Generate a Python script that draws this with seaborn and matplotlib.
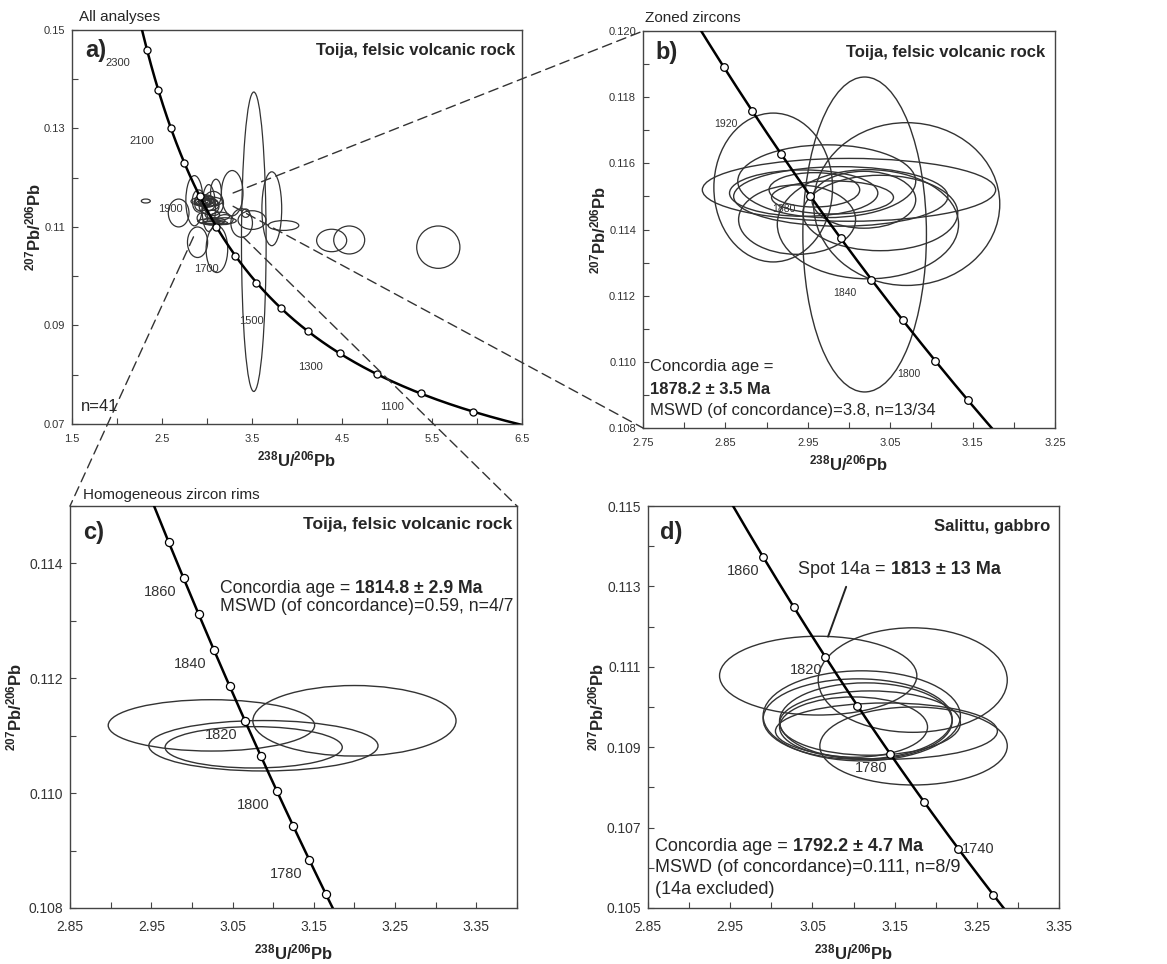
import numpy as np
import seaborn as sns
import matplotlib.pyplot as plt
from matplotlib.patches import Ellipse, ConnectionPatch

sns.set_theme(style="ticks")
plt.rcParams["font.family"] = ["Liberation Sans", "DejaVu Sans"]
plt.rcParams["mathtext.fontset"] = "custom"
plt.rcParams["mathtext.rm"] = "Liberation Sans"
plt.rcParams["mathtext.bf"] = "Liberation Sans:bold"

# decay constants (Steiger & Jäger) for the Tera-Wasserburg concordia
L238 = 1.55125e-10
L235 = 9.8485e-10
U_RATIO = 137.88

# ---- concordia age marks (Ma) ----
a_marks = [1000, 1100, 1200, 1300, 1400, 1500, 1600, 1700, 1800, 1900, 2000, 2100, 2200, 2300]
a_labels = [1100, 1300, 1500, 1700, 1900, 2100, 2300]
b_marks = [1780, 1800, 1820, 1840, 1860, 1880, 1900, 1920, 1940]
b_labels = [1800, 1840, 1880, 1920]
c_marks = [1770, 1780, 1790, 1800, 1810, 1820, 1830, 1840, 1850, 1860, 1870]
c_labels = [1780, 1800, 1820, 1840, 1860]
d_marks = [1720, 1740, 1760, 1780, 1800, 1820, 1840, 1860]
d_labels = [1780, 1820, 1860]
d_labels_right = [1740]

# ---- error ellipses: centre x, centre y, half width, half height ----
# zoned zircons (panel b)
zoned_x = [3.019, 2.908, 3.070, 3.000, 2.973, 2.990, 2.958, 2.980, 2.937, 3.023, 3.038, 3.018, 2.945]
zoned_y = [0.11385, 0.11527, 0.11477, 0.11520, 0.11546, 0.11500, 0.11520, 0.11497, 0.11430, 0.11416, 0.11450, 0.11490, 0.11510]
zoned_hw = [0.075, 0.072, 0.113, 0.178, 0.108, 0.130, 0.055, 0.074, 0.071, 0.110, 0.094, 0.063, 0.090]
zoned_hh = [0.00476, 0.00225, 0.00246, 0.00095, 0.00110, 0.00090, 0.00052, 0.00050, 0.00105, 0.00165, 0.00114, 0.00086, 0.00070]

# homogeneous rims (panel c)
rim_x = [3.024, 3.200, 3.088, 3.076]
rim_y = [0.11118, 0.11126, 0.110825, 0.110798]
rim_hw = [0.127, 0.125, 0.141, 0.109]
rim_hh = [0.000447, 0.000614, 0.000439, 0.00036]

# remaining analyses only visible in panel a
other_x = [2.32, 2.685, 2.86, 3.10, 3.28, 3.72, 3.52, 2.895, 3.11, 3.85, 3.385, 3.50, 3.43,
           4.385, 4.58, 5.57, 2.98, 3.02, 3.06, 2.95, 3.15, 3.00, 3.08, 3.20]
other_y = [0.11527, 0.11284, 0.11533, 0.1170, 0.11686, 0.1137, 0.1070, 0.1069, 0.1055, 0.1103, 0.1108, 0.1114, 0.1128,
           0.10726, 0.10736, 0.1059, 0.1152, 0.1148, 0.1125, 0.1118, 0.1122, 0.1150, 0.1112, 0.1115]
other_hw = [0.05, 0.115, 0.095, 0.06, 0.12, 0.11, 0.137, 0.112, 0.12, 0.17, 0.12, 0.155, 0.043,
            0.167, 0.172, 0.24, 0.05, 0.07, 0.08, 0.06, 0.10, 0.04, 0.12, 0.09]
other_hh = [0.0004, 0.00283, 0.0051, 0.0027, 0.0046, 0.0075, 0.0304, 0.0031, 0.00475, 0.001, 0.0029, 0.0019, 0.00085,
            0.00228, 0.00284, 0.0043, 0.0012, 0.0015, 0.0009, 0.0011, 0.0008, 0.0009, 0.0007, 0.0010]

# Salittu gabbro (panel d), first one is spot 14a
sal_x = [3.057, 3.172, 3.110, 3.105, 3.115, 3.120, 3.100, 3.140, 3.173]
sal_y = [0.11078, 0.11067, 0.10978, 0.10970, 0.10965, 0.10960, 0.10950, 0.10940, 0.10903]
sal_hw = [0.120, 0.115, 0.120, 0.115, 0.105, 0.110, 0.090, 0.135, 0.114]
sal_hh = [0.00098, 0.00130, 0.00112, 0.00100, 0.00095, 0.00080, 0.00075, 0.00070, 0.00097]


def concordia(ages):
    t = np.asarray(ages, dtype=float) * 1e6
    r206 = np.expm1(L238 * t)
    r207 = np.expm1(L235 * t)
    return 1.0 / r206, r207 / r206 / U_RATIO


def draw_concordia(ax, marks, lo, hi, lw=1.8, ms=28):
    cx, cy = concordia(np.linspace(lo, hi, 500))
    sns.lineplot(x=cx, y=cy, ax=ax, color="black", lw=lw, sort=False, estimator=None, zorder=4)
    mx, my = concordia(marks)
    sns.scatterplot(x=mx, y=my, ax=ax, s=ms, color="white", edgecolor="black", linewidth=0.9, zorder=6)


def label_ages(ax, ages, dx, dy, size, ha="center"):
    mx, my = concordia(ages)
    for age, x, y in zip(ages, mx, my):
        ax.annotate(str(age), (x, y), xytext=(dx, dy), textcoords="offset points",
                    ha=ha, va="center", fontsize=size, color="#333333", zorder=7)


def draw_ellipses(ax, xs, ys, hws, hhs, lw=0.9):
    for x, y, w, h in zip(xs, ys, hws, hhs):
        ax.add_patch(Ellipse((x, y), 2 * w, 2 * h, fill=False, ec="#333333", lw=lw, zorder=3))


def style_axis(ax, xlim, ylim, xt, xtl, xminor, yt, ytl, yminor, tsize, xpad=4, ypad=6, tpad=7):
    ax.set_xlim(xlim)
    ax.set_ylim(ylim)
    ax.set_xticks(xt, xtl)
    ax.set_xticks(xminor, minor=True)
    ax.set_yticks(yt, ytl)
    ax.set_yticks(yminor, minor=True)
    ax.tick_params(which="both", direction="in", length=4, width=0.8, color="#444444",
                   labelsize=tsize, labelcolor="#333333")
    ax.tick_params(axis="x", which="major", pad=tpad)
    ax.tick_params(axis="y", which="major", pad=5)
    for s in ax.spines.values():
        s.set_color("#444444")
        s.set_linewidth(1.0)
    ax.set_xlabel(r"$\mathbf{^{238}U/^{206}Pb}$", fontsize=12, labelpad=xpad)
    ax.set_ylabel(r"$\mathbf{^{207}Pb/^{206}Pb}$", fontsize=12, labelpad=ypad)


fig = plt.figure(figsize=(11.67, 9.64), dpi=100)
ax_a = fig.add_axes([0.0617, 0.5602, 0.3856, 0.4087])
ax_b = fig.add_axes([0.551, 0.556, 0.353, 0.4118])
ax_c = fig.add_axes([0.060, 0.0581, 0.383, 0.417])
ax_d = fig.add_axes([0.5553, 0.0581, 0.3522, 0.417])

# ---- a) all analyses ----
draw_ellipses(ax_a, zoned_x + rim_x + other_x, zoned_y + rim_y + other_y,
              zoned_hw + rim_hw + other_hw, zoned_hh + rim_hh + other_hh, lw=0.9)
draw_concordia(ax_a, a_marks, 900, 2600, lw=1.8, ms=26)
label_ages(ax_a, a_labels, -21, -9.5, 8)
style_axis(ax_a, (1.5, 6.5), (0.07, 0.15),
           [1.5, 2.5, 3.5, 4.5, 5.5, 6.5], ["1.5", "2.5", "3.5", "4.5", "5.5", "6.5"],
           np.arange(1.5, 6.51, 0.5),
           [0.07, 0.09, 0.11, 0.13, 0.15], ["0.07", "0.09", "0.11", "0.13", "0.15"],
           np.arange(0.07, 0.1501, 0.01), 8, xpad=4, ypad=0)
ax_a.text(0.03, 0.948, "a)", transform=ax_a.transAxes, fontsize=17, fontweight="bold", va="center")
ax_a.text(0.985, 0.948, "Toija, felsic volcanic rock", transform=ax_a.transAxes,
          fontsize=12, fontweight="bold", ha="right", va="center")
ax_a.text(0.02, 0.045, "n=41", transform=ax_a.transAxes, fontsize=12, va="center")
ax_a.text(0.015, 1.033, "All analyses", transform=ax_a.transAxes, fontsize=11, va="center")

# ---- b) zoned zircons ----
draw_ellipses(ax_b, zoned_x, zoned_y, zoned_hw, zoned_hh, lw=1.0)
draw_concordia(ax_b, b_marks, 1740, 1980, lw=1.8, ms=30)
label_ages(ax_b, b_labels, -19, -9.5, 7.5)
style_axis(ax_b, (2.75, 3.25), (0.108, 0.120),
           [2.75, 2.85, 2.95, 3.05, 3.15, 3.25], ["2.75", "2.85", "2.95", "3.05", "3.15", "3.25"],
           np.arange(2.75, 3.251, 0.05),
           [0.108, 0.110, 0.112, 0.114, 0.116, 0.118, 0.120],
           ["0.108", "0.110", "0.112", "0.114", "0.116", "0.118", "0.120"],
           np.arange(0.108, 0.12001, 0.001), 8, xpad=4, ypad=0)
ax_b.text(0.03, 0.945, "b)", transform=ax_b.transAxes, fontsize=17, fontweight="bold", va="center")
ax_b.text(0.976, 0.945, "Toija, felsic volcanic rock", transform=ax_b.transAxes,
          fontsize=12, fontweight="bold", ha="right", va="center")
ax_b.text(0.017, 0.154, "Concordia age =", transform=ax_b.transAxes, fontsize=12, va="center")
ax_b.text(0.017, 0.098, "1878.2 ± 3.5 Ma", transform=ax_b.transAxes, fontsize=12,
          fontweight="bold", va="center")
ax_b.text(0.017, 0.043, "MSWD (of concordance)=3.8, n=13/34", transform=ax_b.transAxes,
          fontsize=12, va="center")
ax_b.text(0.005, 1.033, "Zoned zircons", transform=ax_b.transAxes, fontsize=11, va="center")

# ---- c) homogeneous rims ----
draw_ellipses(ax_c, rim_x, rim_y, rim_hw, rim_hh, lw=1.0)
draw_concordia(ax_c, c_marks, 1750, 1900, lw=1.8, ms=34)
label_ages(ax_c, c_labels, -17, -10, 10.5)
style_axis(ax_c, (2.85, 3.40), (0.108, 0.115),
           [2.85, 2.95, 3.05, 3.15, 3.25, 3.35], ["2.85", "2.95", "3.05", "3.15", "3.25", "3.35"],
           np.arange(2.85, 3.401, 0.05),
           [0.108, 0.110, 0.112, 0.114], ["0.108", "0.110", "0.112", "0.114"],
           np.arange(0.108, 0.11501, 0.001), 10, xpad=6, ypad=3, tpad=9)
ax_c.text(0.03, 0.933, "c)", transform=ax_c.transAxes, fontsize=17, fontweight="bold", va="center")
ax_c.text(0.99, 0.953, "Toija, felsic volcanic rock", transform=ax_c.transAxes,
          fontsize=12.5, fontweight="bold", ha="right", va="center")
t = ax_c.text(0.336, 0.796, "Concordia age = ", transform=ax_c.transAxes, fontsize=12.7, va="center")
ax_c.annotate("1814.8 ± 2.9 Ma", xy=(1, 0.5), xycoords=t, fontsize=12.7, fontweight="bold", va="center")
ax_c.text(0.336, 0.751, "MSWD (of concordance)=0.59, n=4/7", transform=ax_c.transAxes,
          fontsize=12.7, va="center")
ax_c.text(0.029, 1.027, "Homogeneous zircon rims", transform=ax_c.transAxes, fontsize=11, va="center")

# ---- d) Salittu gabbro ----
draw_ellipses(ax_d, sal_x, sal_y, sal_hw, sal_hh, lw=1.0)
draw_concordia(ax_d, d_marks, 1690, 1900, lw=1.8, ms=30)
label_ages(ax_d, d_labels, -14, -10, 10.5)
label_ages(ax_d, d_labels_right, 3, 0, 10.5, ha="left")
style_axis(ax_d, (2.85, 3.35), (0.105, 0.115),
           [2.85, 2.95, 3.05, 3.15, 3.25, 3.35], ["2.85", "2.95", "3.05", "3.15", "3.25", "3.35"],
           np.arange(2.85, 3.351, 0.05),
           [0.105, 0.107, 0.109, 0.111, 0.113, 0.115],
           ["0.105", "0.107", "0.109", "0.111", "0.113", "0.115"],
           np.arange(0.105, 0.11501, 0.001), 10, xpad=6, ypad=0, tpad=9)
ax_d.text(0.03, 0.933, "d)", transform=ax_d.transAxes, fontsize=17, fontweight="bold", va="center")
ax_d.text(0.978, 0.948, "Salittu, gabbro", transform=ax_d.transAxes,
          fontsize=12, fontweight="bold", ha="right", va="center")
t = ax_d.text(0.365, 0.841, "Spot 14a = ", transform=ax_d.transAxes, fontsize=13, va="center")
ax_d.annotate("1813 ± 13 Ma", xy=(1, 0.5), xycoords=t, fontsize=13, fontweight="bold", va="center")
ax_d.plot([3.091, 3.069], [0.11299, 0.11175], color="#222222", lw=1.4, zorder=7)
t = ax_d.text(0.017, 0.152, "Concordia age = ", transform=ax_d.transAxes, fontsize=13, va="center")
ax_d.annotate("1792.2 ± 4.7 Ma", xy=(1, 0.5), xycoords=t, fontsize=13, fontweight="bold", va="center")
ax_d.text(0.017, 0.100, "MSWD (of concordance)=0.111, n=8/9", transform=ax_d.transAxes,
          fontsize=13, va="center")
ax_d.text(0.017, 0.045, "(14a excluded)", transform=ax_d.transAxes, fontsize=13, va="center")

# ---- dashed zoom links from panel a ----
links = [
    ((3.29, 0.1169), ax_b, (0, 1)),
    ((3.29, 0.1142), ax_b, (0, 0)),
    ((2.85, 0.108), ax_c, (0, 1)),
    ((3.40, 0.108), ax_c, (1, 1)),
]
for start, target, corner in links:
    con = ConnectionPatch(xyA=start, coordsA="data", axesA=ax_a,
                          xyB=corner, coordsB="axes fraction", axesB=target,
                          color="#333333", lw=1.0, linestyle=(0, (7, 4)), zorder=10)
    fig.add_artist(con)

fig.savefig("out.png", dpi=100)
